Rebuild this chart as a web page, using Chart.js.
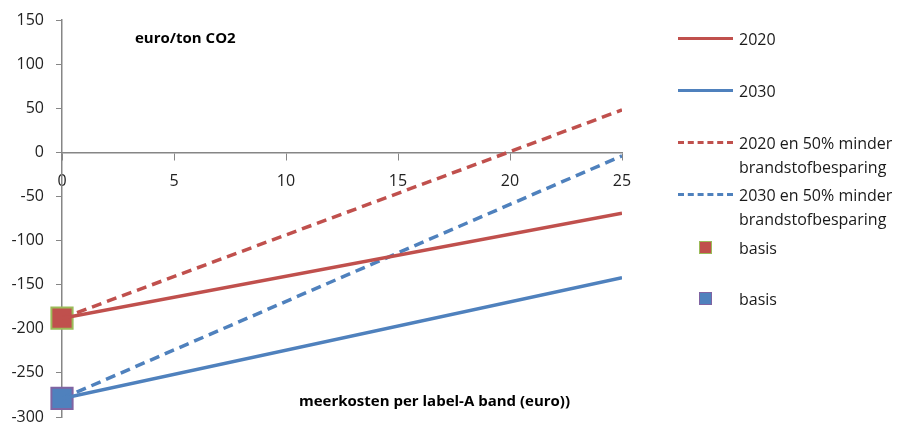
<!DOCTYPE html>
<html>
<head>
<meta charset="utf-8">
<script src="https://cdn.jsdelivr.net/npm/chart.js@4"></script>
<style>
  body { margin: 0; background: #fff; font-family: "Open Sans", sans-serif; overflow: hidden; }
  #wrap { position: relative; width: 910px; height: 425px; overflow: hidden; }
  canvas { position: absolute; left: 0; top: 0; }
  .note { position: absolute; font-weight: bold; font-size: 15px; color: #000; white-space: nowrap; }
  .leg { position: absolute; left: 678px; font-size: 16px; color: #1a1a1a; line-height: 24px; }
  .leg .sw { position: absolute; left: 0; }
  .leg .tx { position: absolute; left: 61px; white-space: nowrap; }
</style>
</head>
<body>
<div id="wrap">
  <!-- canvas is a bit taller than the page; Chart.js keeps ~9px under the plot that we crop off -->
  <canvas id="chart" width="910" height="434"></canvas>
  <div class="note" style="left:135px; top:27px;">euro/ton CO2</div>
  <div class="note" style="left:299px; top:390px;">meerkosten per label-A band (euro))</div>
  <div id="legend"></div>
</div>
<script>
// Data
const xValues = [0, 25];
const line2020 = [-188, -69];
const line2030 = [-279, -142];
const line2020half = [-188, 48];
const line2030half = [-279, -4];
const basis2020 = [-188];
const basis2030 = [-279];
const seriesLabels = [
    '2020',
    '2030',
    '2020 en 50% minder brandstofbesparing',
    '2030 en 50% minder brandstofbesparing',
    'basis',
    'basis'
];
const yTicks = { min: -300, max: 150, step: 50 };
const xTicks = { min: 0, max: 25, step: 5 };

const red = '#C0504D';
const blue = '#4F81BD';

const pts = (ys) => ys.map((y, i) => ({ x: xValues[i], y }));

const lineSet = (label, ys, color, dashed) => ({
    label,
    data: pts(ys),
    showLine: true,
    borderColor: color,
    borderWidth: 3.5,
    borderDash: dashed ? [10, 6] : [],
    pointRadius: 0,
    fill: false
});

const markerSet = (label, ys, color, edge) => ({
    label,
    data: pts(ys),
    showLine: false,
    clip: false,
    pointStyle: 'rect',
    pointRadius: 15,
    pointBackgroundColor: color,
    pointBorderColor: edge,
    pointBorderWidth: 2
});

const datasets = [
    lineSet(seriesLabels[0], line2020, red, false),
    lineSet(seriesLabels[1], line2030, blue, false),
    lineSet(seriesLabels[2], line2020half, red, true),
    lineSet(seriesLabels[3], line2030half, blue, true),
    markerSet(seriesLabels[4], basis2020, red, '#9BBB59'),
    markerSet(seriesLabels[5], basis2030, blue, '#8064A2')
];

const axisGray = '#868686';
const tickFont = { family: '"Open Sans", sans-serif', size: 16 };

new Chart(document.getElementById('chart'), {
    type: 'scatter',
    data: { datasets },
    options: {
        responsive: false,
        animation: false,
        layout: { padding: { top: 20, right: 288, bottom: 8, left: 0 } },
        plugins: { legend: { display: false }, tooltip: { enabled: false } },
        scales: {
            x: {
                type: 'linear',
                position: { y: 0 },
                min: xTicks.min,
                max: xTicks.max,
                ticks: { stepSize: xTicks.step, color: '#222', font: tickFont, padding: 13 },
                grid: { drawOnChartArea: false, color: axisGray, tickLength: 7 },
                border: { color: axisGray, width: 1.5 },
                afterFit(scale) {
                    scale.height = 0;
                    scale.paddingLeft = 0;
                    scale.paddingRight = 0;
                }
            },
            y: {
                min: yTicks.min,
                max: yTicks.max,
                ticks: { stepSize: yTicks.step, color: '#222', font: tickFont, padding: 12 },
                grid: { drawOnChartArea: false, color: axisGray, tickLength: 6 },
                border: { color: axisGray, width: 1.5 },
                afterFit(scale) {
                    scale.width = 62;
                    scale.paddingTop = 0;
                    scale.paddingBottom = 0;
                }
            }
        }
    }
});

// HTML legend built from the datasets
const legendTops = [27, 79, 131, 183, 236, 287];
const legend = document.getElementById('legend');
datasets.forEach((ds, i) => {
    const row = document.createElement('div');
    row.className = 'leg';
    row.style.top = legendTops[i] + 'px';
    let sw;
    if (ds.showLine) {
        const style = ds.borderDash.length ? 'dashed' : 'solid';
        sw = `<div class="sw" style="top:10px; width:55px; border-top:3.5px ${style} ${ds.borderColor};"></div>`;
    } else {
        sw = `<div class="sw" style="left:21px; top:5px; width:11px; height:11px; background:${ds.pointBackgroundColor}; border:1px solid ${ds.pointBorderColor};"></div>`;
    }
    const parts = ds.label.split(' minder ');
    const text = parts.length > 1 ? parts[0] + ' minder<br>' + parts[1] : ds.label;
    row.innerHTML = sw + `<div class="tx">${text}</div>`;
    legend.appendChild(row);
});
</script>
</body>
</html>
